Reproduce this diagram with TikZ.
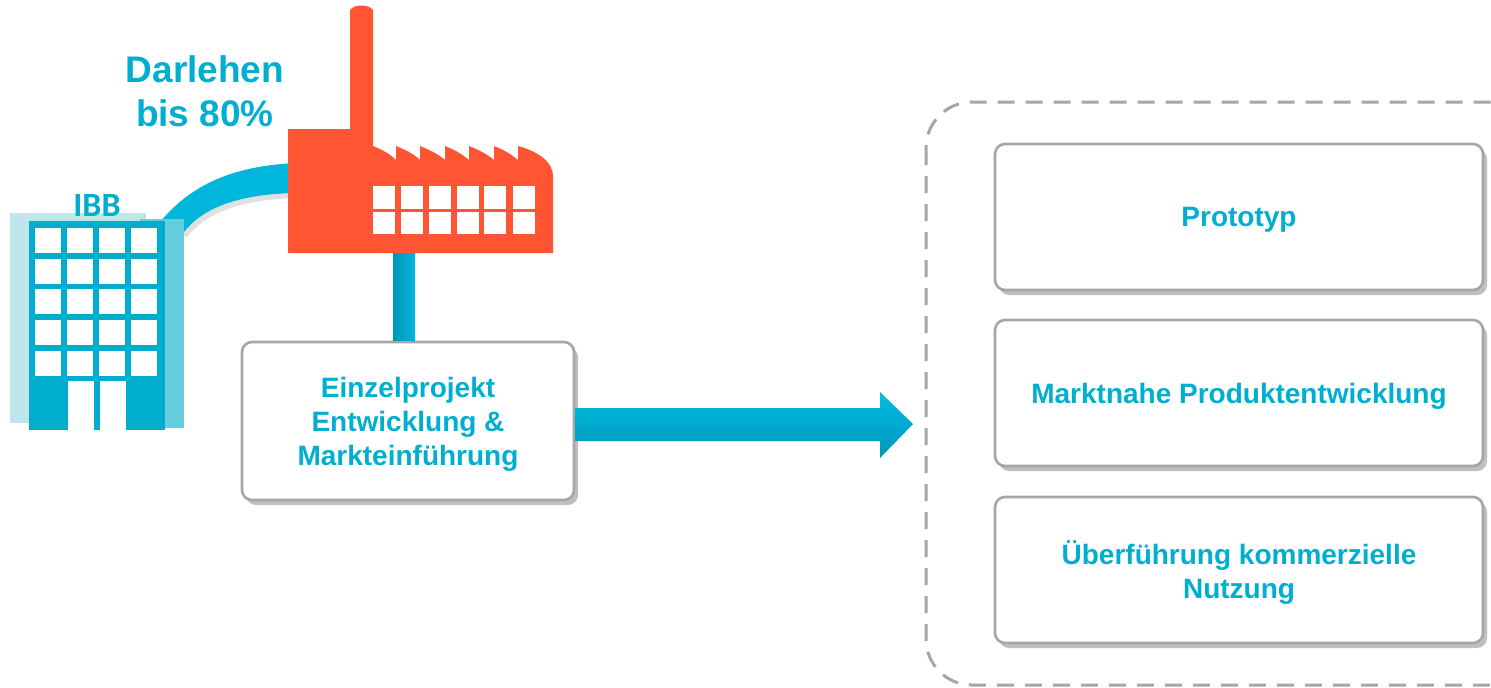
\documentclass[tikz,border=0pt]{standalone}
\usepackage{fontspec}
\setmainfont{Liberation Sans}
\newfontfamily\ibbfont{Carlito}
\usetikzlibrary{shadows,calc}
\definecolor{ibbcyan}{HTML}{00ADCD}
\definecolor{txtcyan}{HTML}{00AFD0}
\definecolor{pipecyan}{HTML}{00B6DB}
\definecolor{pipelight}{HTML}{00BCE2}
\definecolor{pipedark}{HTML}{0096B8}
\definecolor{factred}{HTML}{FF5533}
\definecolor{lightbg}{HTML}{C1E5EC}
\definecolor{midbg}{HTML}{66CDE1}
\definecolor{boxgray}{HTML}{A6A6A6}
\begin{document}
\begin{tikzpicture}[x=0.5pt,y=-0.5pt,
  stagebox/.style={draw=boxgray, line width=1.3pt, fill=white, rounded corners=5pt,
    text=txtcyan, font=\bfseries\fontsize{14}{17}\selectfont, align=center, inner sep=0pt, text depth=0pt,
    drop shadow={shadow xshift=2pt, shadow yshift=-2.5pt, fill=black!55, opacity=0.45}},
  phasebox/.style={stagebox, minimum width=244pt, minimum height=73pt},
  winbox/.style={fill=white},
  pipe/.style={fill=pipecyan},
  frame/.style={draw=boxgray, line width=1.5pt, dash pattern=on 8.5pt off 5.5pt, rounded corners=23pt}
]
\useasboundingbox (0,0) rectangle (1491,687);
\fill[white] (0,0) rectangle (1491,687);

% curved pipe bank -> factory (with soft shadow)
\fill[black!30, opacity=0.4] (163,226) .. controls (198,186) and (243,172) .. (298,169) -- (298,198) .. controls (248,199) and (208,210) .. (187,237) -- cycle;
\fill[pipe] (160,222) .. controls (195,180) and (240,166) .. (295,163) -- (295,193) .. controls (245,194) and (205,205) .. (184,232) -- cycle;

% building (IBB)
\fill[lightbg] (10,213) rectangle (146,423);
\fill[midbg] (140,219) rectangle (184,428);
\fill[ibbcyan] (29,221) rectangle (165,430);
\foreach \x in {35,67,99,131}
  \foreach \y in {228,259,289,320,351}
    \fill[winbox] (\x,\y) rectangle ++(26,25);
\fill[winbox] (68,381) rectangle (126,430);
\fill[ibbcyan] (94,381) rectangle (100,430);
\node[font=\ibbfont\bfseries\fontsize{17}{17}\selectfont, text=ibbcyan, inner sep=0pt] (ibb) at (97,205) {IBB};
\coordinate (bank) at (172,225);

% factory
\fill[factred] (288,129) -- (350,129) -- (350,10) .. controls (354,4) and (369,4) .. (373,10) -- (373,146)
  .. controls (383,150) and (390,154) .. (396,160) -- (396,146)
  .. controls (406,150) and (414,154) .. (420,160) -- (420,146)
  .. controls (430,150) and (438,154) .. (445,160) -- (445,146)
  .. controls (455,150) and (462,154) .. (469,160) -- (469,146)
  .. controls (479,150) and (487,154) .. (494,160) -- (494,146)
  .. controls (504,150) and (511,154) .. (518,160) -- (518,146)
  .. controls (540,152) and (553,163) .. (553,176) -- (553,253) -- (288,253) -- cycle;
\foreach \x in {373,401,429,457,484,513} {
  \fill[winbox] (\x,186) rectangle ++(22,23);
  \fill[winbox] (\x,212) rectangle ++(22,22);
}
\coordinate (factory) at (404,253);

% project box
\node[stagebox, minimum width=166pt, minimum height=79pt] (proj) at (408,421)
  {Einzelprojekt\\Entwicklung \&\\Markteinführung};

% vertical pipe factory -> project box
\fill[left color=pipedark, right color=pipecyan] ($(factory)+(-11,0)$) rectangle ($(proj.north)+(7,0)$);

% label
\node[anchor=north, font=\bfseries\fontsize{18.5}{22}\selectfont, text=txtcyan, align=center, inner sep=0pt] (loan) at (205,55) {Darlehen\\bis 80\%};

% container (dashed)
\begin{scope}
\clip (0,0) rectangle (1491,687);
\draw[frame] (926,102) rectangle (1560,685);
\end{scope}
\coordinate (tip) at (913,424);

% big arrow
\shade[top color=pipelight, bottom color=pipedark] (proj.east |- 0,408) -- (880,408) -- (880,392) -- (tip) -- (880,458) -- (880,441) -- (proj.east |- 0,441) -- cycle;

% phase boxes
\node[phasebox] (p1) at (1239,217) {Prototyp};
\node[phasebox] (p2) at (1239,393) {Marktnahe Produktentwicklung};
\node[phasebox] (p3) at (1239,570) {Überführung kommerzielle\\Nutzung};
\end{tikzpicture}
\end{document}
